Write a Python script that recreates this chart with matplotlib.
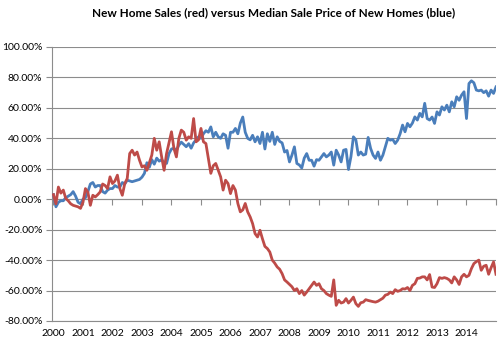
import matplotlib
matplotlib.use("Agg")
import matplotlib.pyplot as plt
import numpy as np

plt.rcParams['font.family'] = ['Lato', 'DejaVu Sans']

title = "New Home Sales (red) versus Median Sale Price of New Homes (blue)"
years = [str(y) for y in range(2000, 2015)]
yticks = [100, 80, 60, 40, 20, 0, -20, -40, -60, -80]

# monthly % change vs Jan 2000, Jan 2000 .. Jan 2015
price_blue = [
    3, -5, -2, -1, -1, 1, 2, 3, 5, 2, -2, -3,
    0, 1, 5, 10, 11, 8, 9, 9, 5, 4, 6, 7,
    7, 9, 8, 8, 11, 10, 12.5, 12, 11.5, 12, 12.5, 13,
    14.5, 17, 24, 21, 26, 23, 27, 25, 26, 24, 23.5, 30,
    33, 33.5, 32, 35.5, 37.5, 36, 34.5, 36.5, 33.5, 37, 39, 41,
    40, 43, 45, 44, 47.5, 41, 44, 41, 40, 43, 42, 33.5,
    44, 44, 46.5, 43, 50, 54, 44, 40, 39, 42, 37.7, 41,
    36.6, 44, 33, 43, 38, 44, 36, 41, 38, 37, 31, 32,
    24.5, 29, 34.4, 23.5, 22.5, 20.5, 27, 30, 25.6, 25.6, 21.7, 26,
    25.6, 27.8, 30, 27.8, 29, 31, 22.4, 32.2, 29, 24.5, 32.2, 32.7,
    19.5, 28, 41, 39, 29, 31, 29, 29.6, 40.6, 33.4, 29, 26.8,
    31, 25.6, 29, 34.4, 40, 38.8, 39.3, 36.6, 38.8, 43, 48.7, 44.3,
    49.8, 47.6, 50, 54.1, 52, 56.4, 54.1, 63, 53, 52, 54, 49.8,
    57.4, 55.3, 60.7, 58.6, 61.8, 57.4, 64, 60.7, 67.3, 65, 68.4, 70.6,
    53, 76, 77.8, 76.5, 71.7, 71.2, 71.7, 70, 71.2, 67.7, 71.7, 69.5,
    73.8,
]

sales_red = [
    3, -3, 8, 4, 6, 0.5, -1, -3, -4, -4.5, -5, -6,
    -2, 7, 4.6, -4, 2.6, 1.5, 3, 4.8, 10, 9, 7, 14.7,
    10.3, 12, 15.8, 7, 2.6, 10.3, 13.6, 30, 32.2, 29, 31, 25.6,
    21.2, 22, 19, 24, 29, 40, 32.2, 37.7, 27.8, 19, 30, 37,
    44.3, 33.4, 27.8, 40, 45.4, 44, 38.8, 41, 40, 53, 37.7, 39,
    46.5, 37.7, 36.6, 26.8, 17, 22, 23.5, 19, 14.7, 6, 12.5, 10.3,
    3.7, 9, 6, -2.8, -8.3, -7, -2.8, -8.3, -11.6, -16, -22.6, -24.8,
    -20.4, -26, -31, -32.4, -34.7, -40, -42, -44.5, -46, -48.9, -53, -54.4,
    -56, -57.5, -60, -58.8, -62, -60, -63, -61, -58.8, -56.6, -54.4, -56.6,
    -55.5, -58.8, -60, -62, -63, -63.8, -53, -69.7, -66.4, -68.2, -67.6, -65.3,
    -68.2, -66.4, -64.3, -68.6, -70.4, -68, -67.6, -66, -66.5, -66.9, -67.3, -67.6,
    -67, -66, -65, -63, -62.5, -61, -62, -59.4, -60.5, -60, -58.8, -59,
    -58, -60, -56.6, -55.5, -52, -51.8, -51, -51, -53, -49.5, -57.7, -58,
    -55.5, -51.5, -52, -51.5, -52, -53, -55, -51, -53, -56, -51, -49.3,
    -51, -50, -45.6, -42.3, -41, -40, -46.7, -44, -43.4, -49.3, -45, -41.2,
    -49.3,
]

t_blue = np.arange(len(price_blue)) / 12.0
t_red = np.arange(len(sales_red)) / 12.0

fig = plt.figure(figsize=(5.0, 3.43), dpi=100)
ax = fig.add_axes([52 / 500, 1 - 321 / 343, 444 / 500, 274 / 343])

grid_c = '#8c8c8c'
ax.set_ylim(-80, 100)
ax.set_xlim(-0.05, 15.0)
ax.set_yticks(yticks)
ax.set_yticklabels([f"{v:.2f}%" for v in yticks], fontsize=7.5)
ax.yaxis.grid(True, color=grid_c, linewidth=0.8)
ax.set_axisbelow(True)

ax.plot(t_blue, price_blue, color='#4a7ebb', linewidth=2.0, solid_joinstyle='round', zorder=3)
ax.plot(t_red, sales_red, color='#be4b48', linewidth=2.0, solid_joinstyle='round', zorder=3)

ax.set_xticks(range(len(years)))
ax.set_xticklabels(years, fontsize=7.5)
ax.tick_params(axis='x', length=0, pad=6)
ax.tick_params(axis='y', length=4, color=grid_c, direction='out', pad=3)

for s in ['top', 'right']:
    ax.spines[s].set_visible(False)
ax.spines['left'].set_color(grid_c)
ax.spines['bottom'].set_color(grid_c)
ax.spines['left'].set_linewidth(0.8)
ax.spines['bottom'].set_linewidth(0.8)

# horizontal axis drawn at 0%
sec = ax.secondary_xaxis(80 / 180)
sec.set_xticks(range(len(years) + 1))
sec.set_xticklabels([])
sec.tick_params(length=4, color=grid_c, direction='out')
sec.spines['bottom'].set_color(grid_c)
sec.spines['bottom'].set_linewidth(0.8)

fig.text((52 + 496) / 2 / 500, 1 - 13 / 343, title, ha='center', va='center',
         fontsize=8.5, fontweight='bold')

fig.savefig('out.png', dpi=100)
